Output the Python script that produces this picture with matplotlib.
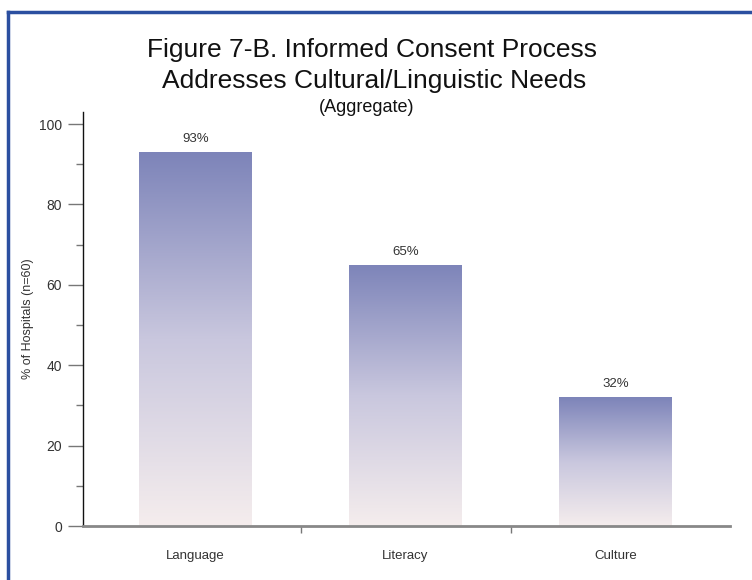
import numpy as np
import matplotlib
matplotlib.use("Agg")
import matplotlib.pyplot as plt
from matplotlib.colors import LinearSegmentedColormap
from matplotlib.lines import Line2D

categories = ["Language", "Literacy", "Culture"]
values = [93, 65, 32]
value_labels = ["93%", "65%", "32%"]
yticks = [0, 20, 40, 60, 80, 100]

W, H = 752, 580
FONT = ["Liberation Sans Narrow", "Liberation Sans", "DejaVu Sans"]

fig = plt.figure(figsize=(W / 100, H / 100), dpi=100)
fig.patch.set_facecolor("white")

# axes in pixel terms: spine x=83..730, zero y=526, top y=112
ax = fig.add_axes([83 / W, 1 - 526 / H, (730 - 83) / W, (526 - 112) / H])
x = np.arange(len(categories))
bars = ax.bar(x, values, width=0.535, color="none", edgecolor="none")

# vertical gradient for each bar, dark at top
cmap = LinearSegmentedColormap.from_list("grad", ["#f5eded", "#c9c7de", "#7d84b9"])
grad = np.linspace(0, 1, 256).reshape(-1, 1)
for b in bars:
    x0, y0 = b.get_x(), b.get_y()
    im = ax.imshow(grad, aspect="auto", cmap=cmap, origin="lower",
                   extent=[x0, x0 + b.get_width(), y0, y0 + b.get_height()], zorder=2)
    im.set_clip_path(b)

for xi, v, lab in zip(x, values, value_labels):
    ax.annotate(lab, (xi, v), xytext=(0, 5), textcoords="offset points",
                ha="center", va="bottom", fontsize=9.5, color="#333333", family=FONT)

ax.set_xlim(-0.536, 2.545)
ax.set_ylim(0, 103)

ax.set_yticks(yticks)
ax.set_yticks(np.arange(10, 100, 20), minor=True)
ax.set_yticklabels([str(t) for t in yticks], family=FONT, fontsize=10, color="#333333")
ax.tick_params(axis="y", which="major", length=11, width=1, color="#777777", pad=4)
ax.tick_params(axis="y", which="minor", length=5, width=1, color="#777777")

ax.set_xticks([0.5, 1.5])
ax.set_xticklabels([])
ax.set_xticks(x, minor=True)
ax.set_xticklabels(categories, minor=True, family=FONT, fontsize=9.5, color="#333333")
ax.tick_params(axis="x", which="major", length=5, width=1, color="#777777", direction="out")
ax.tick_params(axis="x", which="minor", length=0, pad=17)

ax.set_ylabel("% of Hospitals (n=60)", family=FONT, fontsize=9, color="#333333")
ax.yaxis.set_label_coords(-0.076, 0.5)

for s in ["top", "right"]:
    ax.spines[s].set_visible(False)
ax.spines["left"].set_color("#111111")
ax.spines["left"].set_linewidth(1)
ax.spines["bottom"].set_color("#888888")
ax.spines["bottom"].set_linewidth(2)
ax.spines["bottom"].set_zorder(3)

# titles
fig.text(372 / W, 1 - 50 / H, "Figure 7-B. Informed Consent Process",
         ha="center", va="center", fontsize=19, family=FONT, color="#111111")
fig.text(374 / W, 1 - 81 / H, "Addresses Cultural/Linguistic Needs",
         ha="center", va="center", fontsize=19, family=FONT, color="#111111")
fig.text(367 / W, 1 - 107 / H, "(Aggregate)",
         ha="center", va="center", fontsize=13, family=FONT, color="#111111")

# blue frame on top and left
fig.add_artist(Line2D([8 / W, 1], [1 - 12 / H, 1 - 12 / H], color="#2b4fa0", lw=2.5,
                      transform=fig.transFigure, solid_capstyle="projecting"))
fig.add_artist(Line2D([8 / W, 8 / W], [1 - 12 / H, 0], color="#2b4fa0", lw=2.5,
                      transform=fig.transFigure, solid_capstyle="projecting"))

fig.savefig("out.png", dpi=100)
